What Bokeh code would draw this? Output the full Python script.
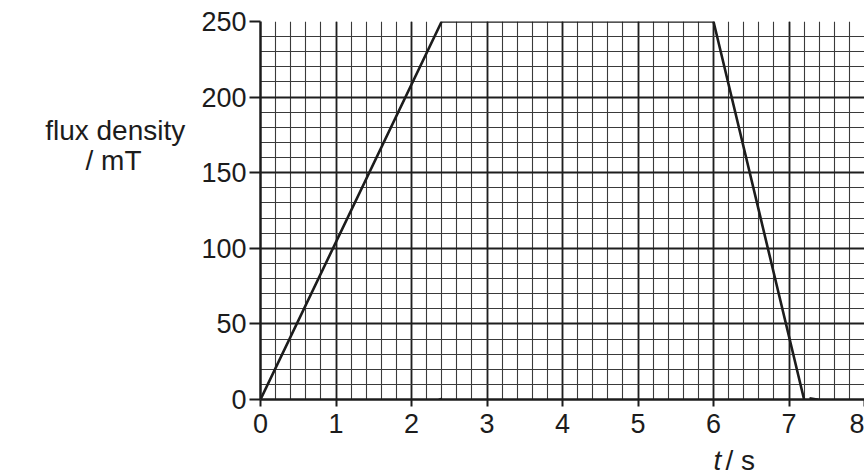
from bokeh.plotting import figure
from bokeh.layouts import column, row
from bokeh.models import SingleIntervalTicker, Range1d
from bokeh.core.properties import value
from bokeh.embed import file_html
from bokeh.resources import INLINE

# data
t_s = [0.0, 2.4, 6.0, 7.2]
flux_mT = [0, 250, 250, 0]
x_ticks_interval = 1
y_ticks_interval = 50
pen_mark1_x = [2.38, 2.44]
pen_mark1_y = [1, -11]
pen_mark2_x = [7.27, 7.39]
pen_mark2_y = [0.5, -0.5]
y_label_lines = ["flux density", "/ mT"]
x_label_parts = ["t", "/ s"]

FONT = "Liberation Sans"
INK = "#1c1c1c"

LEFT_W = 190
MAIN_H = 440
BOTTOM_H = 36
SHIFT = -11


def blank(w, h):
    f = figure(width=w, height=h, output_backend="svg", toolbar_location=None,
               x_range=Range1d(0, w), y_range=Range1d(h, 0),
               x_axis_type=None, y_axis_type=None, min_border=0)
    f.outline_line_color = None
    return f


# main chart
p = figure(width=864 - LEFT_W, height=MAIN_H, output_backend="svg", toolbar_location=None,
           x_range=Range1d(0, 8), y_range=Range1d(0, 250),
           min_border_left=260 - LEFT_W, min_border_right=0, min_border_top=21,
           min_border_bottom=MAIN_H - 399)
p.outline_line_color = None
p.background_fill_color = "white"

p.xaxis.ticker = SingleIntervalTicker(interval=x_ticks_interval, num_minor_ticks=5)
p.yaxis.ticker = SingleIntervalTicker(interval=y_ticks_interval, num_minor_ticks=5)

for ax in (p.xaxis, p.yaxis):
    ax.axis_line_width = 2.5
    ax.axis_line_color = INK
    ax.major_tick_line_color = INK
    ax.major_tick_line_width = 2
    ax.major_tick_in = 0
    ax.minor_tick_line_color = None
    ax.major_label_text_font = FONT
    ax.major_label_text_font_size = "27px"
    ax.major_label_text_color = INK
p.xaxis.major_tick_out = 7
p.yaxis.major_tick_out = 11
p.xaxis.major_label_standoff = 7
p.yaxis.major_label_standoff = 3

for g in (p.xgrid, p.ygrid):
    g.grid_line_color = "#1e1e1e"
    g.grid_line_width = 1.8
    g.grid_line_alpha = 1
    g.minor_grid_line_color = "#3a3a3a"
    g.minor_grid_line_width = 1.1

p.line(t_s, flux_mT, line_color=INK, line_width=2.6)
p.segment(x0=[pen_mark1_x[0], pen_mark2_x[0]], y0=[pen_mark1_y[0], pen_mark2_y[0]],
          x1=[pen_mark1_x[1], pen_mark2_x[1]], y1=[pen_mark1_y[1], pen_mark2_y[1]],
          line_color=INK, line_width=3.5)

# y-axis title panel (left)
a = blank(LEFT_W, MAIN_H)
a.text(x=[114.7, 113], y=[137.7 + SHIFT, 173 + SHIFT], text=y_label_lines,
       text_align="center", text_baseline="alphabetic", text_font=value(FONT),
       text_font_size="28px", text_color=INK)

# x-axis title panel (bottom)
yb = 470.7 - MAIN_H + SHIFT
c = blank(864, BOTTOM_H)
c.text(x=[713], y=[yb], text=[x_label_parts[0]], text_align="left",
       text_baseline="alphabetic", text_font=value(FONT), text_font_size="28px",
       text_font_style="italic", text_color=INK)
c.text(x=[725], y=[yb], text=[x_label_parts[1]], text_align="left",
       text_baseline="alphabetic", text_font=value(FONT), text_font_size="28px",
       text_color=INK)

layout = column(row(a, p, spacing=0), c, spacing=0)
open("out.html", "w").write(file_html(layout, INLINE))
